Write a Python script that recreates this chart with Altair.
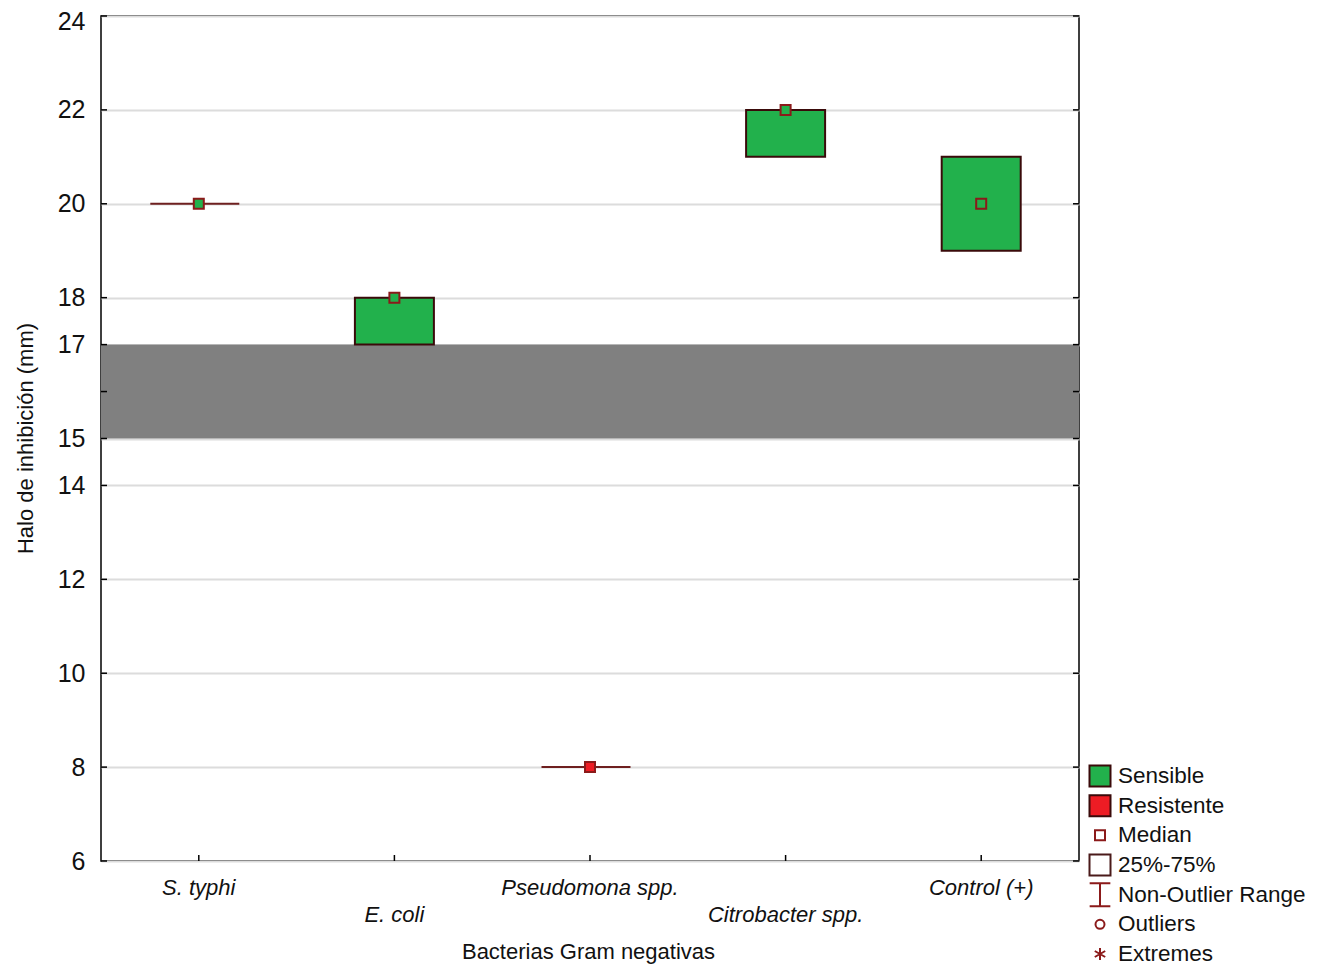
import altair as alt
import pandas as pd

# ---- data ----
bacteria = ["S. typhi", "E. coli", "Pseudomona spp.", "Citrobacter spp.", "Control (+)"]
status = ["Sensible", "Sensible", "Resistente", "Sensible", "Sensible"]
minimum = [20, 17, 8, 21, 19]
q1 = [20, 17, 8, 21, 19]
median = [20, 18, 8, 22, 20]
q3 = [20, 18, 8, 22, 21]
maximum = [20, 18, 8, 22, 21]

zone_low = [15]
zone_high = [17]

y_ticks = [6, 8, 10, 12, 14, 15, 16, 17, 18, 20, 22, 24]
y_unlabelled = [16]

legend_items = ["Sensible", "Resistente", "Median", "25%-75%",
                "Non-Outlier Range", "Outliers", "Extremes"]

status_names = ["Sensible", "Resistente"]

# ---- styles ----
FONT = "Liberation Sans"
GREEN = "#22B14C"
RED = "#ED1C24"
BOX_STROKE = "#3a0a0a"
DARK_RED = "#8b1a1a"
WHISKER = "#6e1f1f"
TEXT = "#111111"

df = pd.DataFrame({
    "bacteria": bacteria, "status": status, "min": minimum, "q1": q1,
    "median": median, "q3": q3, "max": maximum,
})
zone_df = pd.DataFrame({"low": zone_low, "high": zone_high})
ticks_df = pd.DataFrame({"v": y_ticks})
leg_df = pd.DataFrame({"item": legend_items})

second_row = bacteria[1::2]
x_label_expr = (
    f"indexof({second_row!r}, datum.value) >= 0 ? ['', datum.label] : datum.label"
).replace('"', "'")

x_axis = alt.Axis(
    title="Bacterias Gram negativas", labelAngle=0, labelExpr=x_label_expr,
    labelFont=FONT, labelFontStyle="italic", labelFontSize=22, labelColor=TEXT,
    labelBaseline="top", labelPadding=16, labelLineHeight=27, labelAlign="center",
    labelOverlap=False, ticks=False, tickSize=0, domain=False, grid=False,
    titleFont=FONT, titleFontSize=22, titleFontWeight="normal", titleColor=TEXT,
    titleX=487, titleY=90, titleBaseline="middle", titleAlign="center",
)
x_scale = alt.Scale(paddingInner=0, paddingOuter=0)


def xenc():
    return alt.X("bacteria:N", sort=bacteria, scale=x_scale, axis=x_axis)


top_value = max(y_ticks)
y_axis = alt.Axis(
    title="Halo de inhibición (mm)", values=y_ticks,
    labelExpr=f"indexof({y_unlabelled}, datum.value) >= 0 ? '' : datum.label",
    labelFont=FONT, labelFontSize=25, labelColor=TEXT, labelPadding=16,
    labelOverlap=False, grid=True, gridColor="#dcdcdc", gridWidth=2,
    ticks=False, tickSize=0, domain=False,
    labelOffset=alt.condition(f"datum.value == {top_value}", alt.value(5), alt.value(0)),
    titleFont=FONT, titleFontSize=22, titleFontWeight="normal", titleColor=TEXT,
    titleX=-76, titleY=422, titleAngle=270, titleAlign="center", titleBaseline="middle",
)
y_scale = alt.Scale(domain=[6, 24], nice=False, zero=False)


def yenc(field):
    return alt.Y(field, scale=y_scale, axis=y_axis)


fill_status = alt.Fill("status:N", scale=alt.Scale(domain=status_names, range=[GREEN, RED]),
                       legend=None)

base = alt.Chart(df)

band = alt.Chart(zone_df).mark_rect(color="#808080").encode(
    y=yenc("low:Q"), y2="high:Q")

boxes = base.transform_filter("datum.q3 > datum.q1").mark_bar(
    size=79, stroke=BOX_STROKE, strokeWidth=2, opacity=1
).encode(x=xenc(), y=yenc("q1:Q"), y2="q3:Q", fill=fill_status)

flat = base.transform_filter("datum.q3 == datum.q1").mark_tick(
    size=89, thickness=2, color=WHISKER, opacity=1, xOffset=-4
).encode(x=xenc(), y=yenc("q1:Q"))

whisk_lo = base.mark_rule(color=WHISKER, strokeWidth=2).encode(
    x=xenc(), y=yenc("min:Q"), y2="q1:Q")
whisk_hi = base.mark_rule(color=WHISKER, strokeWidth=2).encode(
    x=xenc(), y=yenc("q3:Q"), y2="max:Q")

medians = base.mark_point(
    shape="square", size=100, filled=True, stroke=DARK_RED, strokeWidth=2, opacity=1
).encode(x=xenc(), y=yenc("median:Q"), fill=fill_status)

left_ticks = alt.Chart(ticks_df).mark_rule(color="#000", strokeWidth=1.5).encode(
    y=yenc("v:Q"), x=alt.value(0), x2=alt.value(6))
right_ticks = alt.Chart(ticks_df).mark_rule(color="#000", strokeWidth=1.5).encode(
    y=yenc("v:Q"), x=alt.value(972), x2=alt.value(978))
bottom_ticks = base.mark_rule(color="#000", strokeWidth=1.5).encode(
    x=xenc(), y=alt.value(839), y2=alt.value(845))

main = alt.layer(band, boxes, flat, whisk_lo, whisk_hi, medians,
                 left_ticks, right_ticks, bottom_ticks)

# ---- legend drawn as marks ----
I_PATH = "M-0.9,-1H0.9M0,-1V1M-0.9,1H0.9"
STAR_PATH = "M0,-1V1M-0.87,-0.5L0.87,0.5M-0.87,0.5L0.87,-0.5"
leg_shapes = ["square", "square", "square", "square", I_PATH, "circle", STAR_PATH]
leg_fills = [GREEN, RED, "white", "white", "white", "white", "white"]
leg_strokes = [BOX_STROKE, BOX_STROKE, DARK_RED, "#4a1a1a", DARK_RED, DARK_RED, DARK_RED]
leg_sizes = [441, 441, 100, 441, 529, 81, 144]

leg_y = alt.Y("item:N", scale=alt.Scale(type="point", domain=legend_items,
                                        range=[760, 938], padding=0), axis=None)

leg_symbols = alt.Chart(leg_df).mark_point(filled=True, strokeWidth=2, opacity=1).encode(
    x=alt.value(999), y=leg_y,
    shape=alt.Shape("item:N", scale=alt.Scale(domain=legend_items, range=leg_shapes), legend=None),
    fill=alt.Fill("item:N", scale=alt.Scale(domain=legend_items, range=leg_fills), legend=None),
    stroke=alt.Stroke("item:N", scale=alt.Scale(domain=legend_items, range=leg_strokes), legend=None),
    size=alt.Size("item:N", scale=alt.Scale(type="ordinal", domain=legend_items, range=leg_sizes),
                  legend=None),
)
leg_text = alt.Chart(leg_df).mark_text(
    align="left", baseline="middle", fontSize=22.5, font=FONT, color=TEXT
).encode(x=alt.value(1017), y=leg_y, text="item:N")

legend = alt.layer(leg_symbols, leg_text)

chart = alt.layer(main, legend).resolve_scale(
    y="independent", fill="independent"
).properties(
    width=978, height=845,
    autosize=alt.AutoSizeParams(type="none"),
    padding={"left": 93, "top": 8, "right": 232, "bottom": 104},
).configure(font=FONT).configure_view(stroke="#000", strokeWidth=1.5)

chart.save("out.html", embed_options={"renderer": "svg", "actions": False})
